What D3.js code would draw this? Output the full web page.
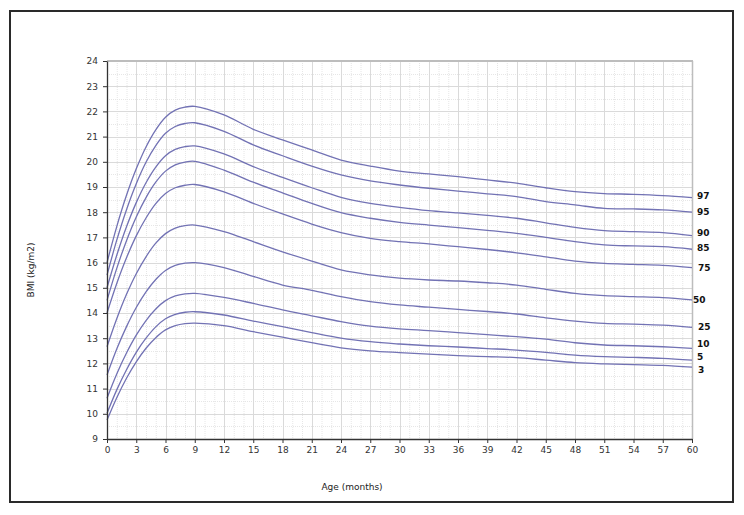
<!DOCTYPE html>
<html>
<head>
<meta charset="utf-8">
<script src="https://cdn.jsdelivr.net/npm/d3@7"></script>
<style>
  body { margin: 0; background: #fff; }
  svg text { font-family: "DejaVu Sans", Verdana, sans-serif; }
</style>
</head>
<body>
<div id="chart"></div>
<script>
// # Data (BMI by age, percentile curves).
const ages = [0, 1, 2, 3, 4, 5, 6, 7, 8, 9, 12, 15, 18, 21, 24, 27, 30, 33, 36, 39, 42, 45, 48, 51, 54, 57, 60]
const percentiles = ['97', '95', '90', '85', '75', '50', '25', '10', '5', '3']

const p97 = [16.0, 17.43, 18.67, 19.72, 20.59, 21.27, 21.77, 22.05, 22.17, 22.2, 21.86, 21.29, 20.87, 20.47, 20.07, 19.83, 19.63, 19.52, 19.41, 19.28, 19.15, 18.97, 18.82, 18.74, 18.71, 18.66, 18.58]
const p95 = [15.5, 16.89, 18.1, 19.13, 19.98, 20.64, 21.13, 21.4, 21.52, 21.55, 21.21, 20.67, 20.24, 19.83, 19.48, 19.24, 19.08, 18.95, 18.84, 18.73, 18.62, 18.42, 18.29, 18.15, 18.13, 18.09, 18.0]
const p90 = [15.0, 16.29, 17.42, 18.38, 19.17, 19.79, 20.24, 20.49, 20.6, 20.63, 20.31, 19.81, 19.38, 18.97, 18.59, 18.35, 18.19, 18.06, 17.97, 17.87, 17.76, 17.58, 17.4, 17.27, 17.23, 17.19, 17.07]
const p85 = [14.5, 15.77, 16.87, 17.81, 18.58, 19.19, 19.63, 19.88, 19.99, 20.02, 19.67, 19.19, 18.77, 18.35, 17.98, 17.76, 17.6, 17.49, 17.39, 17.28, 17.16, 17.0, 16.83, 16.7, 16.66, 16.63, 16.53]
const p75 = [14.0, 15.17, 16.19, 17.06, 17.77, 18.34, 18.74, 18.97, 19.07, 19.1, 18.81, 18.35, 17.93, 17.53, 17.19, 16.96, 16.83, 16.74, 16.63, 16.52, 16.39, 16.23, 16.06, 15.97, 15.93, 15.89, 15.8]
const p50 = [12.66, 13.77, 14.74, 15.56, 16.23, 16.77, 17.15, 17.37, 17.47, 17.49, 17.23, 16.83, 16.43, 16.06, 15.71, 15.51, 15.38, 15.31, 15.27, 15.2, 15.11, 14.94, 14.78, 14.69, 14.65, 14.61, 14.52]
const p25 = [11.54, 12.57, 13.46, 14.22, 14.84, 15.33, 15.69, 15.89, 15.98, 16.0, 15.8, 15.45, 15.11, 14.9, 14.65, 14.45, 14.32, 14.23, 14.14, 14.06, 13.96, 13.81, 13.68, 13.59, 13.56, 13.52, 13.43]
const p10 = [10.62, 11.58, 12.41, 13.12, 13.7, 14.16, 14.49, 14.68, 14.76, 14.78, 14.62, 14.38, 14.12, 13.89, 13.66, 13.48, 13.37, 13.3, 13.22, 13.14, 13.06, 12.96, 12.82, 12.73, 12.7, 12.66, 12.6]
const p5 = [10.02, 10.95, 11.75, 12.44, 13.0, 13.45, 13.77, 13.95, 14.03, 14.05, 13.92, 13.68, 13.46, 13.22, 13.0, 12.86, 12.77, 12.7, 12.65, 12.59, 12.53, 12.44, 12.33, 12.27, 12.24, 12.2, 12.13]
const p3 = [9.75, 10.64, 11.41, 12.06, 12.6, 13.02, 13.33, 13.5, 13.58, 13.6, 13.5, 13.26, 13.04, 12.82, 12.62, 12.5, 12.43, 12.37, 12.31, 12.27, 12.23, 12.13, 12.03, 11.98, 11.95, 11.92, 11.85]

const xTicks = d3.range(0, 61, 3)
const yTicks = d3.range(9, 25, 1)

const series = [p97, p95, p90, p85, p75, p50, p25, p10, p5, p3]

// # Label nudges (px) so end labels don't collide.
const labelStyle = {
    '97': {dx: 5, dy: -2}, '95': {dx: 5, dy: 0}, '90': {dx: 5, dy: -3},
    '85': {dx: 5, dy: -1.5}, '75': {dx: 6, dy: 0.7}, '50': {dx: 1, dy: 0},
    '25': {dx: 6, dy: -0.7}, '10': {dx: 5, dy: -4.3}, '5': {dx: 5, dy: -3.3},
    '3': {dx: 6, dy: 2.7}
}

const width = 744, height = 515
const svg = d3.select('#chart').append('svg')
    .attr('width', width)
    .attr('height', height)

svg.append('rect').attr('width', width).attr('height', height).attr('fill', '#fff')

const x = d3.scaleLinear().domain([0, 60]).range([107, 692])
const y = d3.scaleLinear().domain([9, 24]).range([439, 61])

// # Grid: minor dotted, major solid.
const grid = svg.append('g')
grid.selectAll('.vminor')
    .data(d3.range(0, 61, 1).filter(d => d % 3 != 0))
    .enter().append('line')
    .attr('x1', d => x(d) + 0.5).attr('x2', d => x(d) + 0.5)
    .attr('y1', y(24)).attr('y2', y(9))
    .attr('stroke', '#e6e6e6').attr('stroke-dasharray', '1,1')
grid.selectAll('.hminor')
    .data(d3.range(9.5, 24, 1))
    .enter().append('line')
    .attr('y1', d => Math.round(y(d)) + 0.5).attr('y2', d => Math.round(y(d)) + 0.5)
    .attr('x1', x(0)).attr('x2', x(60))
    .attr('stroke', '#e6e6e6').attr('stroke-dasharray', '1,1')
grid.selectAll('.vmajor')
    .data(xTicks)
    .enter().append('line')
    .attr('x1', d => Math.round(x(d)) + 0.5).attr('x2', d => Math.round(x(d)) + 0.5)
    .attr('y1', y(24)).attr('y2', y(9))
    .attr('stroke', '#dadada')
grid.selectAll('.hmajor')
    .data(yTicks)
    .enter().append('line')
    .attr('y1', d => Math.round(y(d)) + 0.5).attr('y2', d => Math.round(y(d)) + 0.5)
    .attr('x1', x(0)).attr('x2', x(60))
    .attr('stroke', '#dadada')

// plot frame top/right (gray)
svg.append('line').attr('x1', x(0)).attr('x2', x(60) + 1).attr('y1', y(24)).attr('y2', y(24))
    .attr('stroke', '#bdbdbd').attr('stroke-width', 2)
svg.append('line').attr('x1', x(60) + 0.5).attr('x2', x(60) + 0.5).attr('y1', y(24)).attr('y2', y(9))
    .attr('stroke', '#bdbdbd').attr('stroke-width', 1.5)

// # Curves (smoothed like the spreadsheet lines).
const line = d3.line()
    .x((d, i) => x(ages[i]))
    .y(d => y(d))
    .curve(d3.curveCatmullRom.alpha(0.5))

svg.append('g').selectAll('path')
    .data(series)
    .enter().append('path')
    .attr('d', line)
    .attr('fill', 'none')
    .attr('stroke', '#7272b4')
    .attr('stroke-width', 1.3)

// # Axes.
const yAxis = svg.append('g')
    .attr('transform', `translate(${x(0)},0)`)
    .call(d3.axisLeft(y).tickValues(yTicks).tickSize(4).tickSizeOuter(0).tickPadding(5))
const xAxis = svg.append('g')
    .attr('transform', `translate(0,${y(9)})`)
    .call(d3.axisBottom(x).tickValues(xTicks).tickSize(4).tickSizeOuter(0).tickPadding(4))

for (const ax of [xAxis, yAxis]) {
    ax.select('.domain').attr('stroke', '#333').attr('stroke-width', 1.3)
    ax.selectAll('.tick line').attr('stroke', '#333')
    ax.selectAll('.tick text')
        .attr('fill', '#333')
        .style('font-size', '9px')
        .style('font-family', '"DejaVu Sans", Verdana, sans-serif')
}

// # End labels.
svg.append('g').selectAll('text')
    .data(percentiles)
    .enter().append('text')
    .attr('x', (p, i) => x(60) + labelStyle[p].dx)
    .attr('y', (p, i) => y(series[i][series[i].length - 1]) + labelStyle[p].dy)
    .attr('dy', '0.35em')
    .attr('font-size', 9)
    .attr('font-weight', 'bold')
    .attr('fill', '#111')
    .text(p => p)

// # Axis titles.
svg.append('text')
    .attr('x', 352).attr('y', 490)
    .attr('text-anchor', 'middle')
    .attr('font-size', 9)
    .attr('fill', '#222')
    .text('Age (months)')
svg.append('text')
    .attr('transform', 'translate(34,270) rotate(-90)')
    .attr('text-anchor', 'middle')
    .attr('font-size', 9)
    .attr('fill', '#222')
    .text('BMI (kg/m2)')

// # Outer border.
svg.append('rect')
    .attr('x', 10).attr('y', 11)
    .attr('width', 723).attr('height', 491)
    .attr('fill', 'none')
    .attr('stroke', '#2a2a2a')
    .attr('stroke-width', 2)
</script>
</body>
</html>
